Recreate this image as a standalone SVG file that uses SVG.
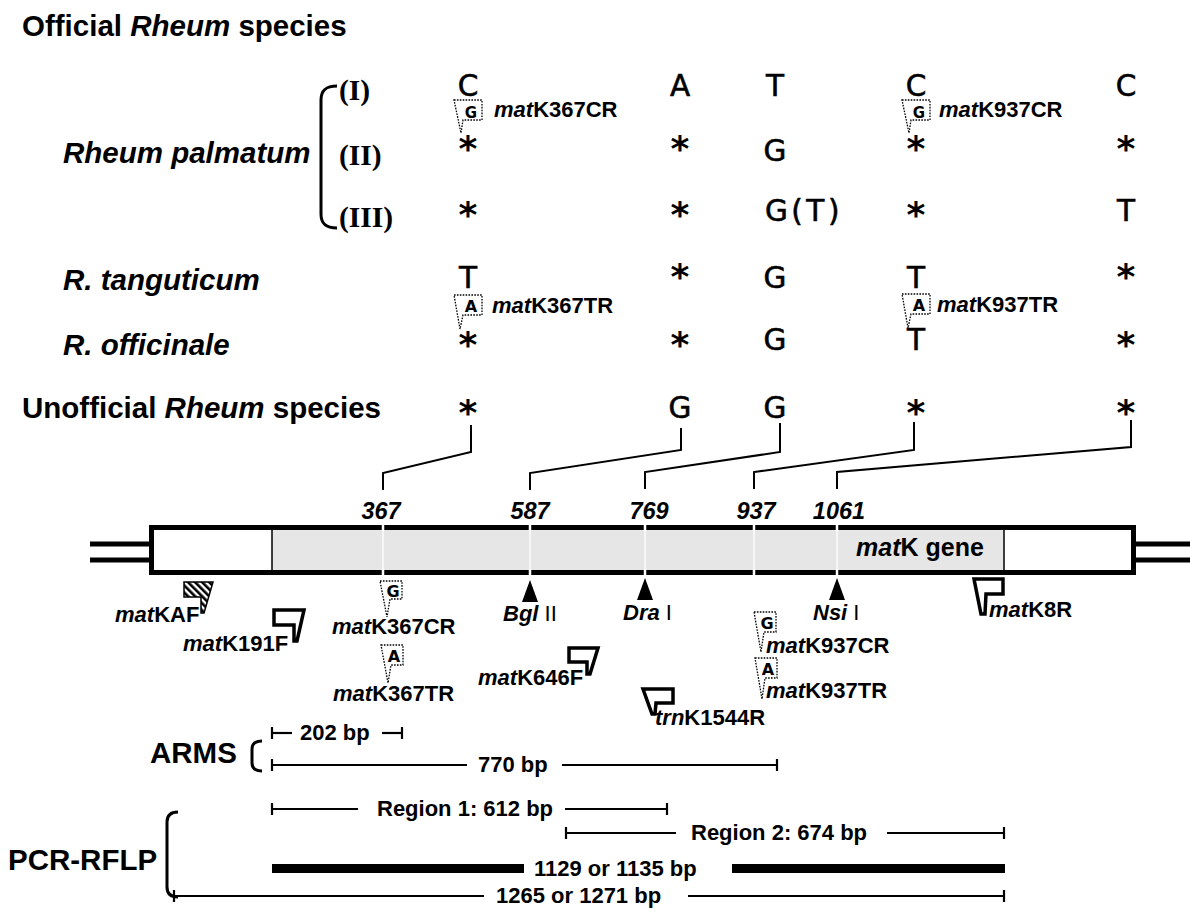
<svg xmlns="http://www.w3.org/2000/svg" width="1190" height="912" viewBox="0 0 1190 912">
<style>
.lab{font-family:"Liberation Sans",Arial,sans-serif;font-weight:bold;font-size:29.5px;fill:#000}
.rom{font-family:"Liberation Serif","Times New Roman",serif;font-weight:bold;font-size:29.5px;fill:#000}
.nt{font-family:"DejaVu Sans",Verdana,sans-serif;font-size:29.5px;text-anchor:middle;fill:#000;stroke:#000;stroke-width:0.6}
.ast{font-family:"DejaVu Sans",Verdana,sans-serif;font-weight:bold;font-size:36px;text-anchor:middle;fill:#000}
.pr{font-family:"Liberation Sans",Arial,sans-serif;font-weight:bold;font-size:22px;fill:#000}
.num{font-family:"Liberation Sans",Arial,sans-serif;font-weight:bold;font-style:italic;font-size:23.5px;text-anchor:middle;fill:#000}
.bp{font-family:"Liberation Sans",Arial,sans-serif;font-weight:bold;font-size:22px;fill:#000}
.bl{font-family:"DejaVu Sans",Verdana,sans-serif;font-weight:bold;font-size:16px;text-anchor:middle;fill:#000}
.conn{fill:none;stroke:#000;stroke-width:2}
.dot{fill:#fff;stroke:#000;stroke-width:1.3;stroke-dasharray:1.6 1.3}
.flag{fill:#fff;stroke:#000;stroke-width:3.5;stroke-linejoin:miter}
.ln{stroke:#000;stroke-width:2.2;fill:none}
.br{fill:none;stroke:#000;stroke-width:3}
.it{font-style:italic}
</style>
<defs>
<pattern id="hatch" patternUnits="userSpaceOnUse" width="5" height="5" patternTransform="rotate(-45)">
<rect width="5" height="5" fill="#fff"/>
<rect width="2.6" height="5" fill="#000"/>
</pattern>
</defs>

<g id="title">
<text class="lab" x="22" y="36">Official <tspan class="it">Rheum</tspan> species</text>
</g>

<g id="species-labels">
<text class="lab it" x="63" y="163">Rheum palmatum</text>
<path class="br" d="M337,86 C326,86 321,90 321,100 V214 C321,224 326,228 337,228"/>
<text class="rom" x="339" y="100">(I)</text>
<text class="rom" x="339" y="165">(II)</text>
<text class="rom" x="339" y="227">(III)</text>
<text class="lab it" x="63" y="290">R. tanguticum</text>
<text class="lab it" x="63" y="355">R. officinale</text>
<text class="lab" x="22" y="418">Unofficial <tspan class="it">Rheum</tspan> species</text>
</g>

<g id="col-367">
<text class="nt" x="468" y="96">C</text>
<text class="ast" x="468" y="161">*</text>
<text class="ast" x="468" y="227">*</text>
<text class="nt" x="468" y="288">T</text>
<text class="ast" x="468" y="357">*</text>
<text class="ast" x="468" y="425">*</text>
</g>
<g id="col-587">
<text class="nt" x="680" y="96">A</text>
<text class="ast" x="680" y="161">*</text>
<text class="ast" x="680" y="227">*</text>
<text class="ast" x="680" y="289">*</text>
<text class="ast" x="680" y="357">*</text>
<text class="nt" x="680" y="418">G</text>
</g>
<g id="col-769">
<text class="nt" x="775" y="96">T</text>
<text class="nt" x="775" y="161">G</text>
<text class="nt" x="765" y="221" style="text-anchor:start;letter-spacing:3.5px">G(T)</text>
<text class="nt" x="775" y="288">G</text>
<text class="nt" x="775" y="350">G</text>
<text class="nt" x="775" y="418">G</text>
</g>
<g id="col-937">
<text class="nt" x="916" y="96">C</text>
<text class="ast" x="916" y="161">*</text>
<text class="ast" x="916" y="227">*</text>
<text class="nt" x="916" y="288">T</text>
<text class="nt" x="916" y="350">T</text>
<text class="ast" x="916" y="425">*</text>
</g>
<g id="col-1061">
<text class="nt" x="1126" y="96">C</text>
<text class="ast" x="1126" y="161">*</text>
<text class="nt" x="1126" y="221">T</text>
<text class="ast" x="1126" y="289">*</text>
<text class="ast" x="1126" y="357">*</text>
<text class="ast" x="1126" y="425">*</text>
</g>

<g id="top-primers">
<polygon class="dot" points="454,100 482,100 482,120 463,120 461,133"/>
<text class="bl" x="471" y="118" style="font-size:15px">G</text>
<text class="pr" x="494" y="117"><tspan class="it">mat</tspan>K367CR</text>
<polygon class="dot" points="902,100 930,100 930,120 911,120 909,133"/>
<text class="bl" x="919" y="118" style="font-size:15px">G</text>
<text class="pr" x="939" y="117"><tspan class="it">mat</tspan>K937CR</text>
<polygon class="dot" points="454,295 482,295 482,315 463,315 460,329"/>
<text class="bl" x="471" y="312">A</text>
<text class="pr" x="492" y="313"><tspan class="it">mat</tspan>K367TR</text>
<polygon class="dot" points="902,294 930,294 930,314 911,314 908,328"/>
<text class="bl" x="919" y="311">A</text>
<text class="pr" x="937" y="312"><tspan class="it">mat</tspan>K937TR</text>
</g>

<g id="connectors">
<polyline class="conn" points="471,425 471,452 383,473 383,490"/>
<polyline class="conn" points="681,428 681,450 530,473 530,490"/>
<polyline class="conn" points="780,423 780,452 645,472 645,489"/>
<polyline class="conn" points="914,422 914,450 754,472 754,489"/>
<polyline class="conn" points="1131,420 1131,447 837,472 837,489"/>
</g>

<g id="gene-bar">
<line x1="90" y1="544" x2="152" y2="544" stroke="#000" stroke-width="5"/>
<line x1="90" y1="560" x2="152" y2="560" stroke="#000" stroke-width="5"/>
<line x1="1134" y1="544" x2="1190" y2="544" stroke="#000" stroke-width="5"/>
<line x1="1134" y1="560" x2="1190" y2="560" stroke="#000" stroke-width="5"/>
<rect x="151.5" y="527.5" width="982" height="45" fill="#fff" stroke="#000" stroke-width="5"/>
<rect x="272" y="530" width="732" height="40" fill="#e6e6e6"/>
<line x1="272" y1="530" x2="272" y2="570" stroke="#000" stroke-width="1.5"/>
<line x1="1004" y1="530" x2="1004" y2="570" stroke="#000" stroke-width="1.5"/>
<g stroke="#fff" stroke-width="2.5">
<line x1="383" y1="524" x2="383" y2="531"/><line x1="383" y1="569" x2="383" y2="576"/>
<line x1="530" y1="524" x2="530" y2="531"/><line x1="530" y1="569" x2="530" y2="576"/>
<line x1="645" y1="524" x2="645" y2="531"/><line x1="645" y1="569" x2="645" y2="576"/>
<line x1="754" y1="524" x2="754" y2="531"/><line x1="754" y1="569" x2="754" y2="576"/>
<line x1="837" y1="524" x2="837" y2="531"/><line x1="837" y1="569" x2="837" y2="576"/>
</g>
<g stroke="#f6f6f6" stroke-width="2">
<line x1="383" y1="531" x2="383" y2="569"/>
<line x1="530" y1="531" x2="530" y2="569"/>
<line x1="645" y1="531" x2="645" y2="569"/>
<line x1="754" y1="531" x2="754" y2="569"/>
<line x1="837" y1="531" x2="837" y2="569"/>
</g>
<text class="pr" x="856" y="556" style="font-size:25px"><tspan class="it">mat</tspan>K gene</text>
</g>

<g id="positions">
<text class="num" x="381" y="519">367</text>
<text class="num" x="530" y="519">587</text>
<text class="num" x="649" y="519">769</text>
<text class="num" x="756" y="519">937</text>
<text class="num" x="839" y="519">1061</text>
</g>

<g id="primer-matKAF">
<polygon points="184,582 213,582 204,613 201,613 201,597 184,597" fill="url(#hatch)" stroke="#000" stroke-width="1.5"/>
<text class="pr" x="115" y="622"><tspan class="it">mat</tspan>KAF</text>
</g>
<g id="primer-matK191F">
<polygon class="flag" points="274,610 304,610 297,641 294,641 294,625 274,625"/>
<text class="pr" x="183" y="651"><tspan class="it">mat</tspan>K191F</text>
</g>
<g id="primer-matK367">
<polygon class="dot" points="380,581 402,581 402,599 390,599 387,617"/>
<text class="bl" x="393" y="597">G</text>
<text class="pr" x="332" y="634"><tspan class="it">mat</tspan>K367CR</text>
<polygon class="dot" points="381,645 403,645 403,665 391,665 388,683"/>
<text class="bl" x="394" y="662">A</text>
<text class="pr" x="333" y="701"><tspan class="it">mat</tspan>K367TR</text>
</g>
<g id="site-BglII">
<polygon points="530,580 522,602 538,602" fill="#000"/>
<text class="pr" x="503" y="621"><tspan class="it">Bgl</tspan><tspan font-weight="normal"> II</tspan></text>
</g>
<g id="site-DraI">
<polygon points="645,578 637,600 653,600" fill="#000"/>
<text class="pr" x="623" y="620"><tspan class="it">Dra</tspan><tspan font-weight="normal"> I</tspan></text>
</g>
<g id="site-NsiI">
<polygon points="837,578 829,600 845,600" fill="#000"/>
<text class="pr" x="813" y="620"><tspan class="it">Nsi</tspan><tspan font-weight="normal"> I</tspan></text>
</g>
<g id="primer-matK646F">
<polygon class="flag" points="569,648 598,648 590,674 587,674 587,662 569,662"/>
<text class="pr" x="478" y="685"><tspan class="it">mat</tspan>K646F</text>
</g>
<g id="primer-trnK1544R">
<polygon class="flag" points="643,689 673,689 673,703 656,703 655,714 652,714"/>
<text class="pr" x="655" y="725"><tspan class="it">trn</tspan>K1544R</text>
</g>
<g id="primer-matK937">
<polygon class="dot" points="754,612 776,612 776,632 764,632 761,652"/>
<text class="bl" x="767" y="629">G</text>
<text class="pr" x="766" y="653"><tspan class="it">mat</tspan>K937CR</text>
<polygon class="dot" points="755,658 777,658 777,678 765,678 762,699"/>
<text class="bl" x="768" y="675">A</text>
<text class="pr" x="766" y="698"><tspan class="it">mat</tspan>K937TR</text>
</g>
<g id="primer-matK8R">
<polygon class="flag" points="974,579 1003,579 1003,594 986,594 985,614 981,614"/>
<text class="pr" x="989" y="617"><tspan class="it">mat</tspan>K8R</text>
</g>

<g id="arms">
<text class="lab" x="150" y="763">ARMS</text>
<path class="br" d="M262,741 C255,741 252,744 252,749 V763 C252,768 255,771 262,771"/>
<line class="ln" x1="272" y1="727" x2="272" y2="739"/>
<line class="ln" x1="272" y1="733" x2="292" y2="733"/>
<text class="bp" x="300" y="740">202 bp</text>
<line class="ln" x1="382" y1="733" x2="402" y2="733"/>
<line class="ln" x1="402" y1="727" x2="402" y2="739"/>
<line class="ln" x1="272" y1="759" x2="272" y2="771"/>
<line class="ln" x1="272" y1="765" x2="467" y2="765"/>
<text class="bp" x="478" y="772">770 bp</text>
<line class="ln" x1="562" y1="765" x2="777" y2="765"/>
<line class="ln" x1="777" y1="759" x2="777" y2="771"/>
</g>

<g id="pcr-rflp">
<text class="lab" x="8" y="870">PCR-RFLP</text>
<path class="br" d="M178,812 C171,812 167,815 167,822 V887 C167,894 171,897 178,897"/>
<line class="ln" x1="272" y1="803" x2="272" y2="815"/>
<line class="ln" x1="272" y1="809" x2="358" y2="809"/>
<text class="bp" x="377" y="816">Region 1: 612 bp</text>
<line class="ln" x1="565" y1="809" x2="667" y2="809"/>
<line class="ln" x1="667" y1="803" x2="667" y2="815"/>
<line class="ln" x1="566" y1="827" x2="566" y2="839"/>
<line class="ln" x1="566" y1="833" x2="676" y2="833"/>
<text class="bp" x="691" y="840">Region 2: 674 bp</text>
<line class="ln" x1="887" y1="833" x2="1004" y2="833"/>
<line class="ln" x1="1004" y1="827" x2="1004" y2="839"/>
<rect x="272" y="864" width="252" height="9" fill="#000"/>
<text class="bp" x="534" y="876">1129 or 1135 bp</text>
<rect x="732" y="864" width="273" height="9" fill="#000"/>
<line class="ln" x1="174" y1="890" x2="174" y2="902"/>
<line class="ln" x1="174" y1="896" x2="484" y2="896"/>
<text class="bp" x="496" y="903">1265 or 1271 bp</text>
<line class="ln" x1="688" y1="896" x2="1004" y2="896"/>
<line class="ln" x1="1004" y1="890" x2="1004" y2="902"/>
</g>
</svg>
